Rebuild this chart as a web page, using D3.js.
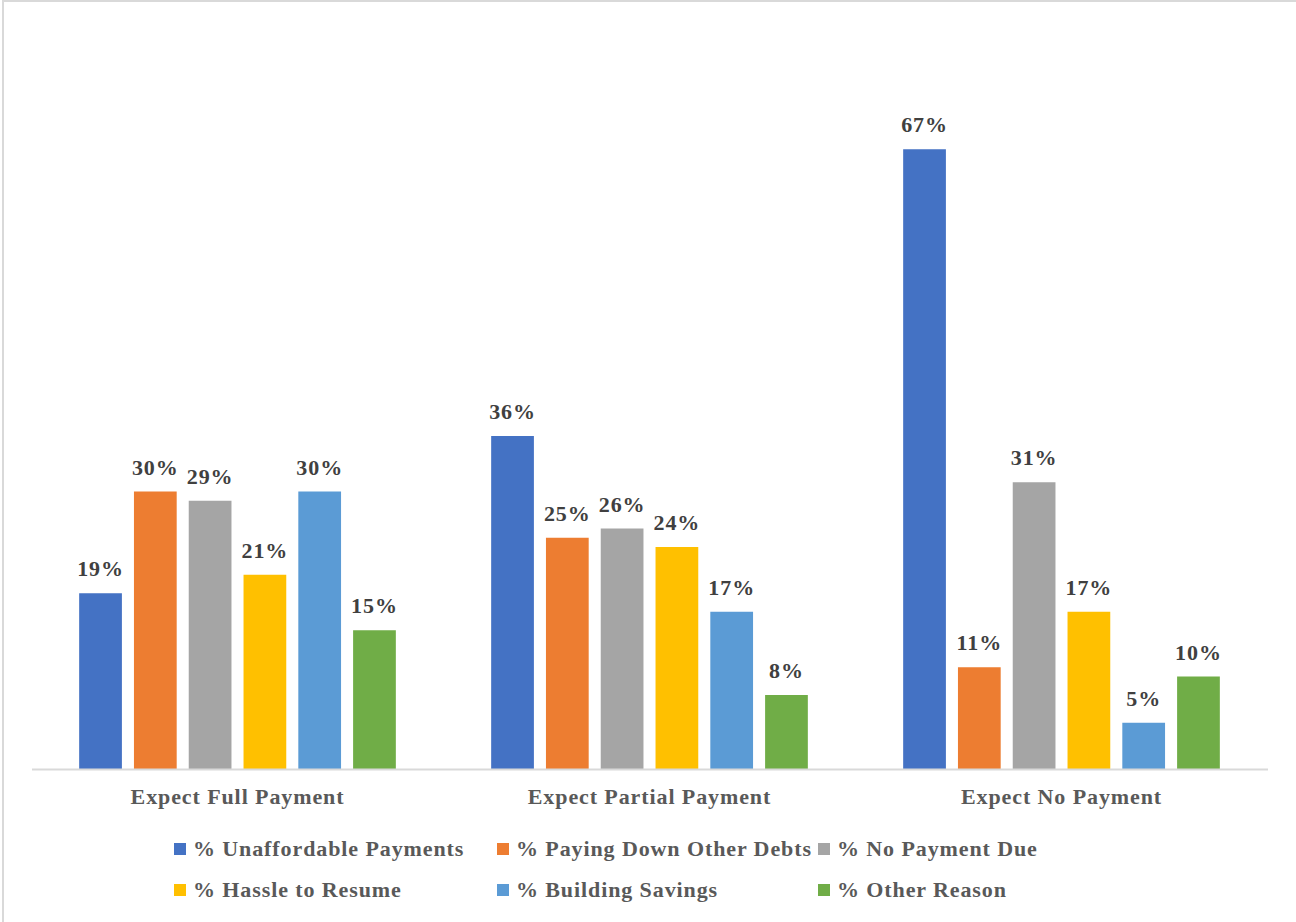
<!DOCTYPE html>
<html>
<head>
<meta charset="utf-8">
<script src="https://cdn.jsdelivr.net/npm/d3@7"></script>
<style>
  html, body { margin: 0; padding: 0; background: #fff; }
  svg { display: block; }
  text { font-family: "Liberation Serif", "Times New Roman", serif; font-weight: bold; }
</style>
</head>
<body>
<svg id="chart" width="1296" height="922"></svg>
<script>
// Reasons for not resuming payments, by payment expectation
const categories = ["Expect Full Payment", "Expect Partial Payment", "Expect No Payment"];
const seriesNames = [
  "% Unaffordable Payments",
  "% Paying Down Other Debts",
  "% No Payment Due",
  "% Hassle to Resume",
  "% Building Savings",
  "% Other Reason"
];
const unaffordable = [19, 36, 67];
const payingDebts  = [30, 25, 11];
const noPaymentDue = [29, 26, 31];
const hassle       = [21, 24, 17];
const savings      = [30, 17, 5];
const otherReason  = [15, 8, 10];
const seriesColors = ["#4472C4", "#ED7D31", "#A5A5A5", "#FFC000", "#5B9BD5", "#70AD47"];

const seriesValues = [unaffordable, payingDebts, noPaymentDue, hassle, savings, otherReason];

const svg = d3.select("#chart");

// outer frame
svg.append("rect")
  .attr("x", 3).attr("y", 1)
  .attr("width", 1400).attr("height", 1000)
  .attr("fill", "none")
  .attr("stroke", "#d9d9d9")
  .attr("stroke-width", 2);

const baseY = 769;
const x0 = d3.scaleBand().domain(categories).range([31.5, 1267.5]).padding(0);
const x1 = d3.scaleBand().domain(seriesNames).range([0, x0.bandwidth()])
  .paddingInner(0.22).paddingOuter(0.87);
const y = d3.scaleLinear().domain([0, 70]).range([baseY, baseY - 647.5]);
const color = d3.scaleOrdinal().domain(seriesNames).range(seriesColors);

const rows = [];
categories.forEach((c, ci) => {
  seriesNames.forEach((s, si) => rows.push({ cat: c, series: s, value: seriesValues[si][ci] }));
});

const g = svg.append("g");

g.selectAll("rect.bar")
  .data(rows)
  .join("rect")
  .attr("class", "bar")
  .attr("x", d => x0(d.cat) + x1(d.series))
  .attr("y", d => y(d.value))
  .attr("width", x1.bandwidth())
  .attr("height", d => y(0) - y(d.value))
  .attr("fill", d => color(d.series));

g.selectAll("text.val")
  .data(rows)
  .join("text")
  .attr("class", "val")
  .attr("x", d => x0(d.cat) + x1(d.series) + x1.bandwidth() / 2)
  .attr("y", d => y(d.value) - 17)
  .attr("text-anchor", "middle")
  .attr("font-size", 22)
  .attr("letter-spacing", 0.9)
  .attr("fill", "#404040")
  .text(d => d.value + "%");

// category axis
const xAxis = d3.axisBottom(x0).tickSize(0).tickPadding(0);
const axisG = svg.append("g").attr("transform", `translate(0,${baseY})`).call(xAxis);
axisG.select(".domain").attr("stroke", "#d9d9d9").attr("stroke-width", 2);
axisG.selectAll(".tick text")
  .attr("y", 35)
  .attr("dy", 0)
  .attr("font-size", 22)
  .attr("letter-spacing", 0.9)
  .attr("font-family", "Liberation Serif, Times New Roman, serif")
  .attr("font-weight", "bold")
  .attr("fill", "#595959");

// legend
const legendCols = [174, 497, 818];
const legendRows = [856, 897];
const legend = svg.append("g");
seriesNames.forEach((s, i) => {
  const lx = legendCols[i % 3];
  const ly = legendRows[Math.floor(i / 3)];
  legend.append("rect")
    .attr("x", lx).attr("y", ly - 13)
    .attr("width", 12).attr("height", 12)
    .attr("fill", color(s));
  legend.append("text")
    .attr("x", lx + 19).attr("y", ly)
    .attr("font-size", 22)
    .attr("letter-spacing", 0.9)
    .attr("fill", "#595959")
    .text(s);
});
</script>
</body>
</html>
